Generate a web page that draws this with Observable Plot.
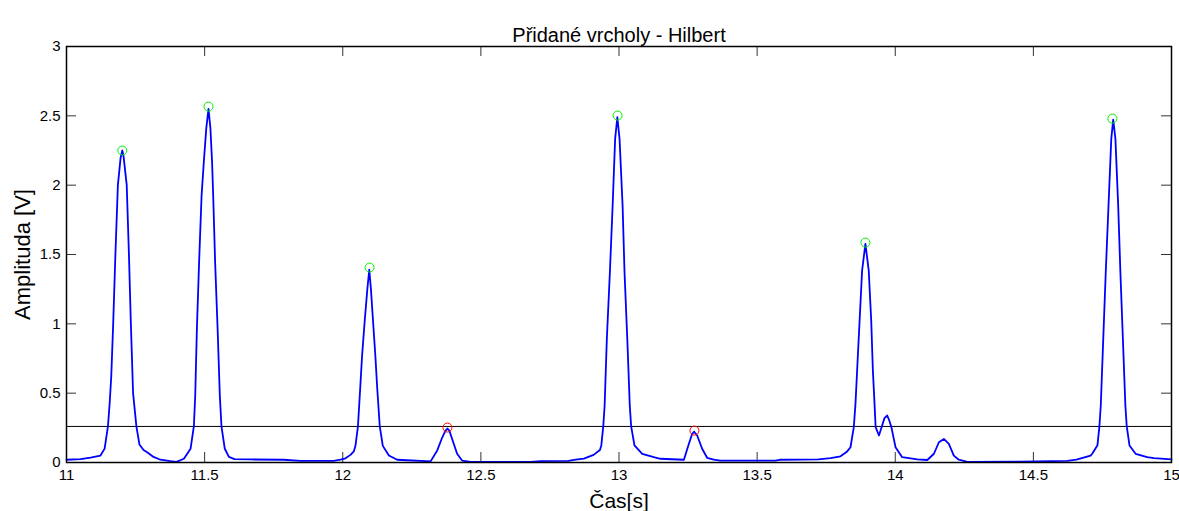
<!DOCTYPE html>
<html>
<head>
<meta charset="utf-8">
<script src="https://cdn.jsdelivr.net/npm/d3@7"></script>
<script src="https://cdn.jsdelivr.net/npm/@observablehq/plot@0.6"></script>
<style>
  html, body { margin: 0; padding: 0; background: #fff; }
  #chart svg { display: block; }
</style>
</head>
<body>
<div id="chart"></div>
<script>
// Signal: time [s] and Hilbert envelope amplitude [V]
const time = [
  11.000, 11.051, 11.087, 11.123, 11.138, 11.150, 11.156, 11.162, 11.169, 11.177,
  11.186, 11.196, 11.202, 11.207, 11.218, 11.226, 11.233, 11.241, 11.253, 11.264,
  11.279, 11.292, 11.315, 11.340, 11.376, 11.398,
  11.425, 11.449, 11.461, 11.466, 11.472, 11.480, 11.489, 11.497, 11.506, 11.514,
  11.521, 11.527, 11.531, 11.538, 11.547, 11.555, 11.561, 11.573, 11.588, 11.608,
  11.666, 11.786, 11.847, 11.967, 11.992,
  12.010, 12.028, 12.040, 12.046, 12.055, 12.063, 12.070, 12.079, 12.089, 12.096,
  12.102, 12.110, 12.118, 12.125, 12.134, 12.145, 12.167, 12.197,
  12.318, 12.342, 12.360, 12.372, 12.379, 12.386, 12.396, 12.414, 12.432, 12.462,
  12.680, 12.716, 12.817, 12.843, 12.873, 12.908, 12.931,
  12.936, 12.943, 12.948, 12.956, 12.967, 12.977, 12.986, 12.994, 13.002, 13.013,
  13.020, 13.030, 13.039, 13.044, 13.056, 13.084, 13.126, 13.150, 13.235,
  13.253, 13.265, 13.272, 13.283, 13.301, 13.319, 13.343, 13.367, 13.567, 13.585,
  13.722, 13.766,
  13.802, 13.826, 13.838, 13.850, 13.856, 13.862, 13.871, 13.880, 13.892, 13.904,
  13.913, 13.919, 13.925, 13.929, 13.941, 13.950, 13.961, 13.971, 13.979, 13.986,
  14.001, 14.025, 14.080, 14.116,
  14.140, 14.158, 14.176, 14.194, 14.212, 14.230, 14.261, 14.453, 14.623, 14.656,
  14.707, 14.713, 14.732, 14.739, 14.744, 14.753, 14.762, 14.772, 14.782, 14.789,
  14.797, 14.807, 14.815, 14.824, 14.833, 14.838, 14.848, 14.870, 14.912, 14.936,
  15.000
];
const amplitude = [
  0.020, 0.025, 0.035, 0.050, 0.100, 0.260, 0.420, 0.620, 1.000, 1.500,
  2.000, 2.200, 2.250, 2.200, 2.000, 1.500, 1.000, 0.500, 0.260, 0.130,
  0.090, 0.074, 0.040, 0.020, 0.010, 0.005,
  0.027, 0.099, 0.260, 0.483, 0.964, 1.444, 1.925, 2.165, 2.410, 2.550,
  2.410, 2.165, 1.925, 1.444, 0.964, 0.483, 0.260, 0.099, 0.040, 0.025,
  0.022, 0.020, 0.012, 0.012, 0.020,
  0.030, 0.055, 0.080, 0.120, 0.260, 0.530, 0.770, 1.010, 1.250, 1.390,
  1.250, 1.010, 0.770, 0.530, 0.260, 0.120, 0.050, 0.020,
  0.008, 0.087, 0.180, 0.230, 0.245, 0.230, 0.170, 0.063, 0.014, 0.005,
  0.005, 0.010, 0.012, 0.020, 0.028, 0.055, 0.090,
  0.123, 0.260, 0.411, 0.892, 1.372, 1.853, 2.334, 2.490, 2.334, 1.853,
  1.372, 0.892, 0.411, 0.260, 0.123, 0.063, 0.038, 0.027, 0.020,
  0.135, 0.207, 0.222, 0.195, 0.099, 0.034, 0.020, 0.014, 0.014, 0.020,
  0.022, 0.031,
  0.045, 0.080, 0.110, 0.255, 0.423, 0.663, 1.024, 1.384, 1.577, 1.384,
  1.024, 0.663, 0.423, 0.255, 0.195, 0.250, 0.320, 0.339, 0.300, 0.255,
  0.110, 0.038, 0.022, 0.018,
  0.063, 0.146, 0.170, 0.135, 0.050, 0.020, 0.004, 0.007, 0.012, 0.020,
  0.050, 0.063, 0.125, 0.260, 0.411, 0.892, 1.372, 1.853, 2.334, 2.473,
  2.334, 1.853, 1.372, 0.892, 0.411, 0.260, 0.123, 0.063, 0.038, 0.031,
  0.022
];

// Detected peaks: accepted (green) and rejected (red)
const acceptedTime = [11.202, 11.514, 12.097, 12.995, 13.892, 14.786];
const acceptedAmp  = [2.250, 2.567, 1.406, 2.502, 1.586, 2.480];
const rejectedTime = [12.379, 13.273];
const rejectedAmp  = [0.252, 0.230];

const threshold = 0.26;

const xTicks = [11, 11.5, 12, 12.5, 13, 13.5, 14, 14.5, 15];
const xTickLabels = ["11", "11.5", "12", "12.5", "13", "13.5", "14", "14.5", "15"];
const yTicks = [0, 0.5, 1, 1.5, 2, 2.5, 3];
const yTickLabels = ["0", "0.5", "1", "1.5", "2", "2.5", "3"];

const titleText = "Přidané vrcholy - Hilbert";
const xLabel = "Čas[s]";
const yLabel = "Amplituda [V]";

const signal = time.map((t, i) => ({t, a: amplitude[i]}));
const accepted = acceptedTime.map((t, i) => ({t, a: acceptedAmp[i]}));
const rejected = rejectedTime.map((t, i) => ({t, a: rejectedAmp[i]}));

const W = 1179, H = 511;
const mL = 66, mR = 8, mT = 46, mB = 49;
const frameW = W - mL - mR, frameH = H - mT - mB;
const tickLen = 10;

const chart = Plot.plot({
  width: W,
  height: H,
  marginLeft: mL,
  marginRight: mR,
  marginTop: mT,
  marginBottom: mB,
  style: {fontFamily: "'Liberation Sans', Arial, Helvetica, sans-serif", background: "#fff", color: "#000"},
  x: {domain: [11, 15]},
  y: {domain: [0, 3]},
  marks: [
    Plot.tickX(xTicks, {insetTop: frameH - tickLen, stroke: "#333", strokeWidth: 1}),
    Plot.tickX(xTicks, {insetBottom: frameH - tickLen, stroke: "#333", strokeWidth: 1}),
    Plot.tickY(yTicks, {insetRight: frameW - tickLen, stroke: "#333", strokeWidth: 1}),
    Plot.tickY(yTicks, {insetLeft: frameW - tickLen, stroke: "#333", strokeWidth: 1}),
    Plot.ruleY([threshold], {stroke: "#000", strokeWidth: 1}),
    Plot.line(signal, {x: "t", y: "a", stroke: "#0000ff", strokeWidth: 1.8}),
    Plot.dot(accepted, {x: "t", y: "a", r: 4.5, stroke: "#00ee00", strokeWidth: 1}),
    Plot.dot(rejected, {x: "t", y: "a", r: 4.5, stroke: "#ff0000", strokeWidth: 1}),
    Plot.frame({stroke: "#000", strokeWidth: 1.5}),
    Plot.axisX(xTicks, {tickSize: 0, tickPadding: 7, fontSize: 15, label: null,
      tickFormat: (d) => xTickLabels[xTicks.indexOf(d)]}),
    Plot.axisY(yTicks, {tickSize: 0, tickPadding: 6, fontSize: 15, label: null,
      tickFormat: (d) => yTickLabels[yTicks.indexOf(d)]}),
    Plot.text([titleText], {frameAnchor: "top", dy: -19, fontSize: 20, fill: "#000", textAnchor: "middle"}),
    Plot.text([xLabel], {frameAnchor: "bottom", dy: 45, fontSize: 21, fill: "#000", textAnchor: "middle"}),
    Plot.text([yLabel], {frameAnchor: "left", dx: -44, rotate: -90, fontSize: 22, fill: "#000", textAnchor: "middle"})
  ]
});

document.getElementById("chart").appendChild(chart);
</script>
</body>
</html>
